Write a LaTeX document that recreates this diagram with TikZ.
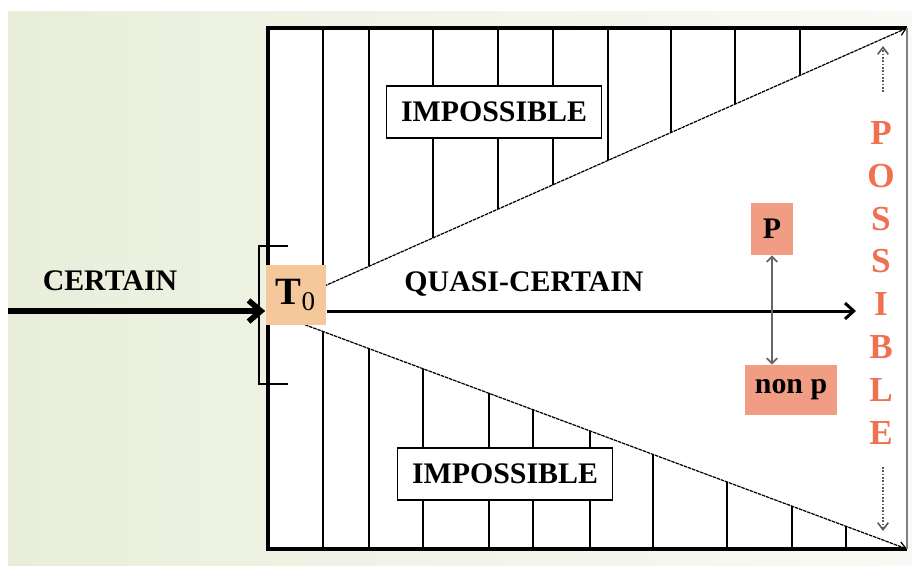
\documentclass[tikz,border=0pt]{standalone}
\usepackage{fontspec}
\setmainfont{Liberation Serif}
\usepackage{xcolor}
\usetikzlibrary{arrows.meta}
\usetikzlibrary{positioning}

\definecolor{peach}{RGB}{244,200,155}
\definecolor{salmon}{RGB}{240,157,132}
\definecolor{possred}{RGB}{240,112,80}
\definecolor{bggreen}{RGB}{233,238,219}
\definecolor{bglight}{RGB}{249,250,245}

\begin{document}
\begin{tikzpicture}[x=0.02cm, y=-0.02cm,
        hatch/.style={line width=0.6pt},
        bigtext/.style={font=\fontsize{17}{20}\selectfont\bfseries, text=black},
        tag/.style={bigtext, draw, line width=0.8pt, fill=white, inner sep=0pt,
                    minimum width=4.3cm, minimum height=1.04cm},
        diag/.style={line width=0.7pt, densely dashed, dash pattern=on 2pt off 0.5pt,
                     -{Straight Barb[length=4pt, width=5pt]}},
        dotarrow/.style={gray!70!black, line width=0.9pt, densely dotted,
                         -{Straight Barb[length=4pt, width=6pt]}}]
        \useasboundingbox (0,0) rectangle (912,565);
        \fill[white] (0,0) rectangle (912,565);
        \shade[left color=bggreen, right color=bglight] (8,11) rectangle (912,565);

        \coordinate (apex) at (268,311);
        \coordinate (tl) at (268,28);
        \coordinate (tr) at (907,28);
        \coordinate (bl) at (268,549);
        \coordinate (br) at (907,549);
        \fill[white] (tl) rectangle (br);

        \foreach \x in {323,369,433,498,553,608,671,735,800}
            \draw[hatch] (\x,28) -- (\x,{311-(\x-268)*0.4429});
        \foreach \x in {323,369,423,489,533,590,653,727,792,846}
            \draw[hatch] (\x,{311+(\x-268)*0.3725}) -- (\x,549);

        \draw[diag] (apex) -- (tr);
        \draw[diag] (apex) -- (br);

        \draw[line width=1.9pt] (tr) -- (tl) -- (bl) -- (br);
        \draw[gray, line width=0.6pt] (tr) -- (br);
        \draw[line width=0.6pt] (288,246) -- (259,246) -- (259,384) -- (288,384);

        \node[fill=peach, minimum width=1.22cm, minimum height=1.2cm, inner sep=0pt,
              font=\fontsize{22}{24}\selectfont] (t0) at (296,295)
              {\textbf{T}\textsubscript{0}};
        \node[tag] (impup) at (494,112) {IMPOSSIBLE};
        \node[tag] (implow) at (505,474) {IMPOSSIBLE};
        \node[bigtext] (certain) at (110,281) {CERTAIN};
        \node[bigtext] (quasi) at (524,284) {QUASI-CERTAIN};
        \node[bigtext, fill=salmon, minimum width=0.84cm, minimum height=1.04cm,
              inner sep=0pt] (p) at (772,229) {P};
        \node[bigtext, fill=salmon, minimum width=1.84cm, minimum height=1.0cm,
              inner sep=0pt] (nonp) at (791,390) {non p};

        \foreach \l [count=\i] in {P,O,S,S,I,B,L,E}
            \node[font=\fontsize{20}{24}\selectfont\bfseries, text=possred]
                (pos\i) at (881,{133+(\i-1)*42.8}) {\l};

        \coordinate (start) at (8,311);
        \coordinate (tip) at (856,311);
        \coordinate (upfrom) at (883,92);
        \coordinate (upto) at (883,46);
        \coordinate (downfrom) at (883,467);
        \coordinate (downto) at (883,531);

        \draw[line width=3.2pt, -{Straight Barb[length=7pt, width=12pt]}]
            (start) -- (t0.west |- apex);
        \draw[line width=1.7pt, -{Straight Barb[length=5pt, width=9pt]}]
            (t0.east |- apex) -- (tip);
        \draw[gray!80!black, line width=1pt,
              {Straight Barb[length=3pt, width=6pt]}-{Straight Barb[length=3pt, width=6pt]}]
            (p.south) -- (p.south |- nonp.north);
        \draw[dotarrow] (upfrom) -- (upto);
        \draw[dotarrow] (downfrom) -- (downto);
    \end{tikzpicture}
\end{document}
